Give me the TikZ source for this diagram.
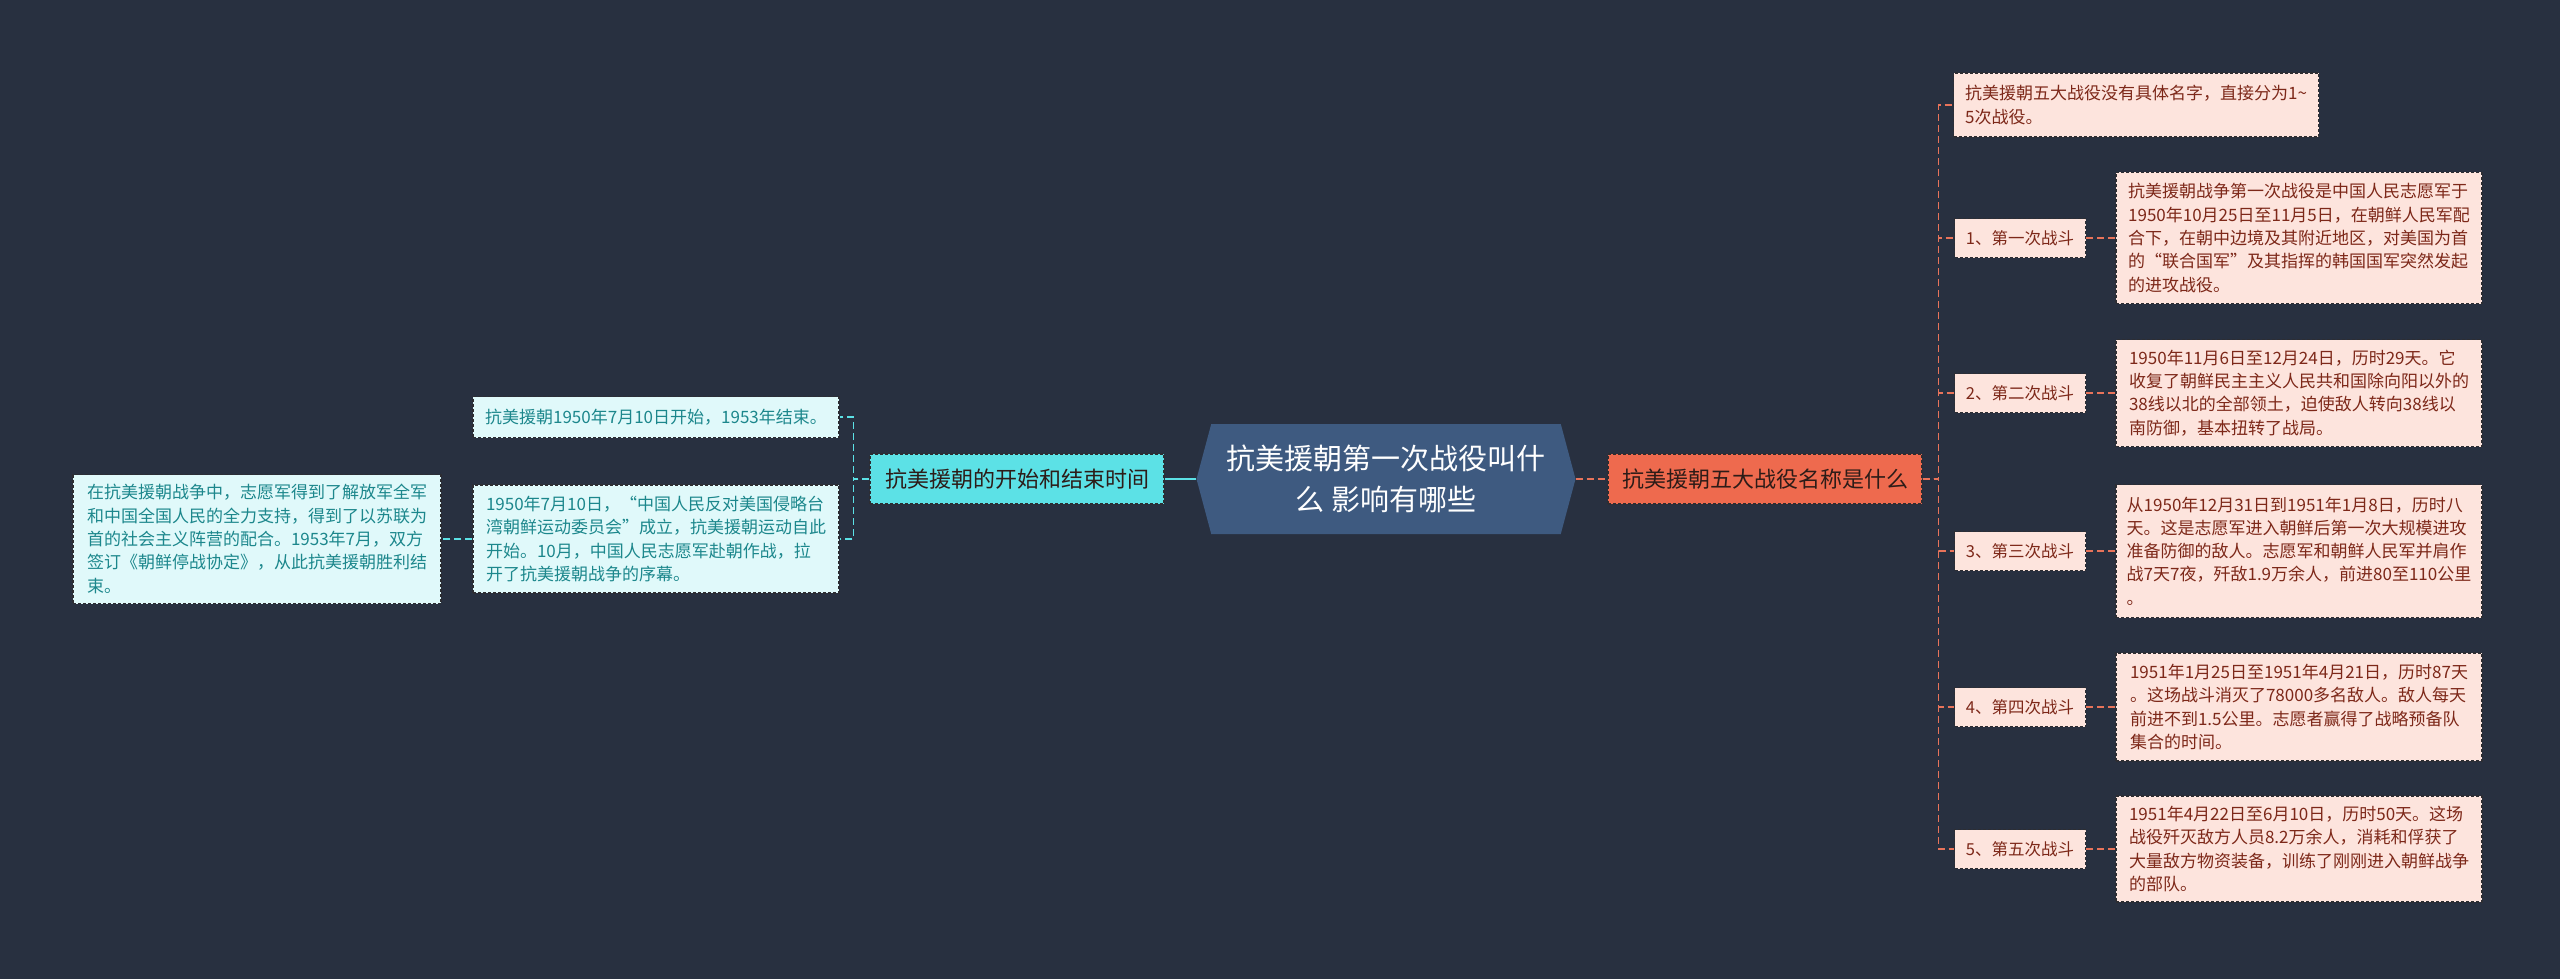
\documentclass[tikz,border=0pt]{standalone}
\usepackage{fontspec}
\setmainfont{Noto Sans CJK SC}
\usetikzlibrary{shapes.symbols, positioning}

\definecolor{bgnavy}{RGB}{40,48,64}
\definecolor{rootblue}{RGB}{62,90,128}
\definecolor{mainorange}{RGB}{238,106,78}
\definecolor{maincyan}{RGB}{92,225,230}
\definecolor{pinkfill}{RGB}{253,228,221}
\definecolor{pinktext}{RGB}{125,40,25}
\definecolor{cyanfill}{RGB}{224,249,250}
\definecolor{cyantext}{RGB}{28,135,140}
\definecolor{boxedge}{RGB}{45,45,50}
\definecolor{linksalmon}{RGB}{232,115,90}
\definecolor{darktext}{RGB}{45,28,24}

\begin{document}
\begin{tikzpicture}[x=1pt,y=-1pt,
    boxbase/.style={draw=boxedge, line width=1.1pt, dash pattern=on 3pt off 2pt, align=left, inner sep=0pt},
    leafpink/.style={boxbase, fill=pinkfill, text=pinktext, font=\fontsize{17}{23.3}\selectfont},
    leafcyan/.style={boxbase, fill=cyanfill, text=cyantext, font=\fontsize{17}{23.3}\selectfont},
    battle/.style={leafpink, font=\fontsize{16.5}{20}\selectfont, minimum width=131pt, minimum height=39pt},
    mainbox/.style={boxbase, font=\fontsize{22}{26}\selectfont, text=darktext, minimum height=50pt},
    linkpink/.style={draw=linksalmon, line width=1.6pt, dash pattern=on 7pt off 4pt},
    linkcyan/.style={draw=maincyan, line width=1.6pt, dash pattern=on 7pt off 4pt}]
    \fill[bgnavy] (0,0) rectangle (2560,979);
    \useasboundingbox (0,0) rectangle (2560,979);

    % centre topic
    \node[signal, signal to=west and east, signal pointer angle=150, fill=rootblue, text=white,
        font=\fontsize{29}{41}\selectfont, align=center, inner sep=0pt,
        minimum width=379pt, minimum height=110pt] (root) at (1386,479) {抗美援朝第一次战役叫什\\么 影响有哪些};

    % left branch
    \node[mainbox, fill=maincyan, minimum width=294pt] (period) at (1017,479) {抗美援朝的开始和结束时间};
    \node[leafcyan, minimum width=366pt, minimum height=41pt] (dates) at (656,417) {抗美援朝1950年7月10日开始，1953年结束。};
    \node[leafcyan, minimum width=366pt, minimum height=108pt] (begin) at (656,539) {1950年7月10日，“中国人民反对美国侵略台\\湾朝鲜运动委员会”成立，抗美援朝运动自此\\开始。10月，中国人民志愿军赴朝作战，拉\\开了抗美援朝战争的序幕。};
    \node[leafcyan, minimum width=368pt, minimum height=129pt] (victory) at (257,539) {在抗美援朝战争中，志愿军得到了解放军全军\\和中国全国人民的全力支持，得到了以苏联为\\首的社会主义阵营的配合。1953年7月，双方\\签订《朝鲜停战协定》，从此抗美援朝胜利结\\束。};

    % right branch
    \node[mainbox, fill=mainorange, minimum width=314pt] (names) at (1765,479) {抗美援朝五大战役名称是什么};
    \node[leafpink, minimum width=365pt, minimum height=64pt] (nonames) at (2136,105) {抗美援朝五大战役没有具体名字，直接分为1\textasciitilde\\5次战役。};
    \node[battle] (b1) at (2020,238) {1、第一次战斗};
    \node[battle] (b2) at (2020,393) {2、第二次战斗};
    \node[battle] (b3) at (2020,551) {3、第三次战斗};
    \node[battle] (b4) at (2020,707) {4、第四次战斗};
    \node[battle] (b5) at (2020,849) {5、第五次战斗};
    \node[leafpink, minimum width=366pt, minimum height=131pt] (d1) at (2299,238) {抗美援朝战争第一次战役是中国人民志愿军于\\1950年10月25日至11月5日，在朝鲜人民军配\\合下，在朝中边境及其附近地区，对美国为首\\的“联合国军”及其指挥的韩国国军突然发起\\的进攻战役。};
    \node[leafpink, minimum width=366pt, minimum height=107pt] (d2) at (2299,393) {1950年11月6日至12月24日，历时29天。它\\收复了朝鲜民主主义人民共和国除向阳以外的\\38线以北的全部领土，迫使敌人转向38线以\\南防御，基本扭转了战局。};
    \node[leafpink, minimum width=366pt, minimum height=133pt] (d3) at (2299,551) {从1950年12月31日到1951年1月8日，历时八\\天。这是志愿军进入朝鲜后第一次大规模进攻\\准备防御的敌人。志愿军和朝鲜人民军并肩作\\战7天7夜，歼敌1.9万余人，前进80至110公里\\。};
    \node[leafpink, minimum width=366pt, minimum height=108pt] (d4) at (2299,707) {1951年1月25日至1951年4月21日，历时87天\\。这场战斗消灭了78000多名敌人。敌人每天\\前进不到1.5公里。志愿者赢得了战略预备队\\集合的时间。};
    \node[leafpink, minimum width=366pt, minimum height=106pt] (d5) at (2299,849) {1951年4月22日至6月10日，历时50天。这场\\战役歼灭敌方人员8.2万余人，消耗和俘获了\\大量敌方物资装备，训练了刚刚进入朝鲜战争\\的部队。};

    % connectors
    \draw[draw=maincyan, line width=2pt] (root.west) -- (period.east);
    \draw[linkpink, line width=2pt] (root.east) -- (names.west);
    \draw[linkcyan] (period.west) -- ++(-16,0) |- (dates.east);
    \draw[linkcyan] (period.west) -- ++(-16,0) |- (begin.east);
    \draw[linkcyan] (begin.west) -- (victory.east);
    \foreach \n in {nonames,b1,b2,b3,b4,b5}
        \draw[linkpink] (names.east) -- ++(16,0) |- (\n.west);
    \foreach \i in {1,...,5}
        \draw[linkpink] (b\i.east) -- (d\i.west);
\end{tikzpicture}
\end{document}
